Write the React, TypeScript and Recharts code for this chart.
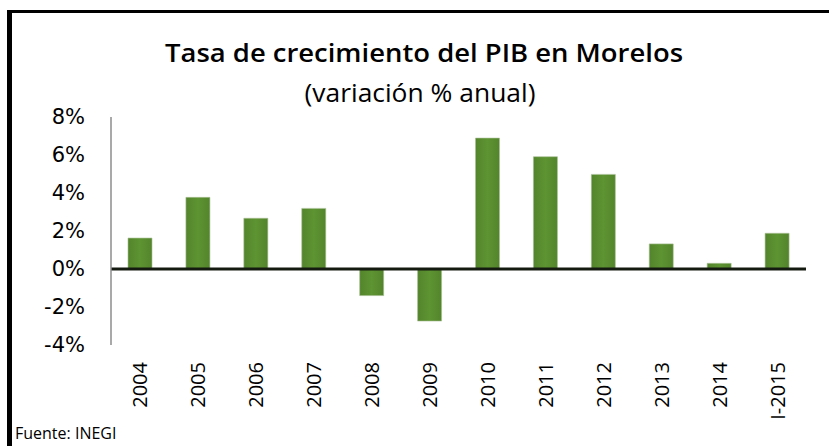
import { Bar, BarChart, ReferenceLine, XAxis, YAxis } from "recharts";

// Tasa de crecimiento del PIB en Morelos, variación % anual (INEGI)
const years = ["2004", "2005", "2006", "2007", "2008", "2009", "2010", "2011", "2012", "2013", "2014", "I-2015"];
const growth = [1.63, 3.77, 2.67, 3.19, -1.4, -2.74, 6.89, 5.91, 4.98, 1.32, 0.3, 1.88];
const yTicks = [-4, -2, 0, 2, 4, 6, 8];

const data = years.map((y, i) => ({ year: y, value: growth[i] }));

function YearTick({ x, y, payload }: any) {
  return (
    <text
      transform={`translate(${x},${y}) rotate(-90)`}
      textAnchor="end"
      dominantBaseline="central"
      fontFamily="'Open Sans', sans-serif"
      fontSize={20}
      fill="#000"
    >
      {payload.value}
    </text>
  );
}

export default function App() {
  return (
    <div style={{ position: "absolute", left: 0, top: 0, width: 829, height: 446, background: "#fff" }}>
      <div
        style={{
          position: "absolute",
          left: 7,
          top: 10,
          right: 0,
          bottom: 0,
          borderTop: "3px solid #000",
          borderLeft: "5px solid #000",
        }}
      />
      <BarChart
        width={829}
        height={446}
        data={data}
        margin={{ top: 117, right: 23, bottom: 0, left: 0 }}
        style={{ position: "absolute", left: 0, top: 0 }}
      >
        <defs>
          <linearGradient id="barGreen" x1="0" y1="0" x2="1" y2="0">
            <stop offset="0%" stopColor="#53842c" />
            <stop offset="50%" stopColor="#5e9432" />
            <stop offset="100%" stopColor="#53842c" />
          </linearGradient>
        </defs>
        <YAxis
          domain={[-4, 8]}
          ticks={yTicks}
          tickFormatter={(v: number) => `${v}%`}
          width={111}
          axisLine={{ stroke: "#8c8c8c", strokeWidth: 1.5 }}
          tickLine={false}
          tickSize={0}
          tickMargin={26}
          tick={{ fill: "#000", fontSize: 21, fontFamily: "'DejaVu Sans', sans-serif" }}
          interval={0}
        />
        <XAxis
          dataKey="year"
          height={101}
          axisLine={false}
          tickLine={false}
          tickSize={0}
          tickMargin={17}
          interval={0}
          tick={<YearTick />}
        />
        <Bar dataKey="value" fill="url(#barGreen)" stroke="#a9bf96" strokeWidth={0.6} barSize={24} isAnimationActive={false} />
        <ReferenceLine y={0} stroke="#141a10" strokeWidth={3} />
      </BarChart>
      <svg width={829} height={446} style={{ position: "absolute", left: 0, top: 0, pointerEvents: "none" }}>
        <text
          x={424}
          y={62}
          textAnchor="middle"
          fontFamily="'Open Sans', sans-serif"
          fontWeight={600}
          fontSize={26}
          textLength={518}
          lengthAdjust="spacingAndGlyphs"
          fill="#000"
        >
          Tasa de crecimiento del PIB en Morelos
        </text>
        <text
          x={420}
          y={102}
          textAnchor="middle"
          fontFamily="'Open Sans', sans-serif"
          fontSize={26}
          textLength={231}
          lengthAdjust="spacingAndGlyphs"
          fill="#000"
        >
          (variación % anual)
        </text>
        <text x={15} y={439} fontFamily="'Open Sans', sans-serif" fontSize={16} fill="#000">
          Fuente: INEGI
        </text>
      </svg>
    </div>
  );
}
